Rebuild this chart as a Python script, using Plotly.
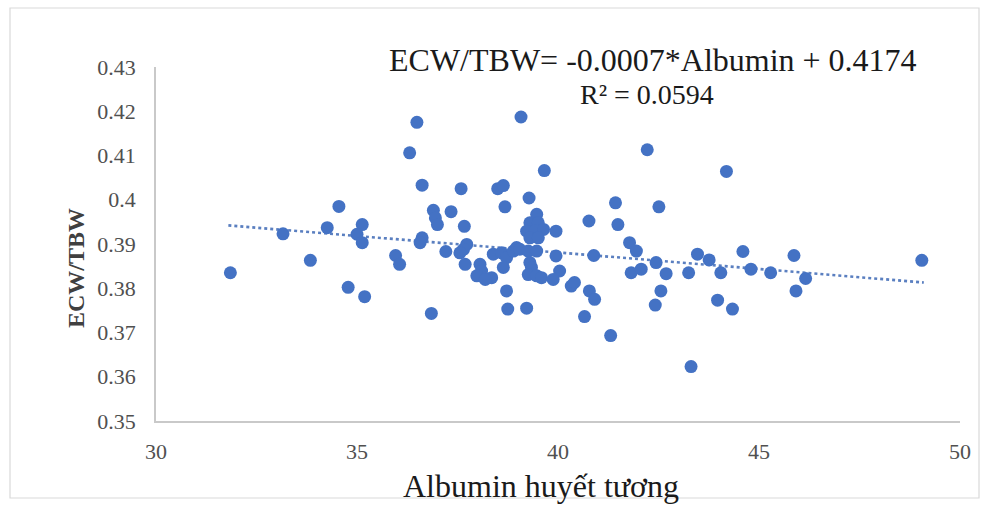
import plotly.graph_objects as go

# Data
albumin = [31.85, 33.16, 33.84, 34.26, 34.55, 34.78, 35.13, 35.0, 35.13, 35.19,
           35.96, 36.06, 36.31, 36.49, 36.62, 36.62, 36.57, 36.85, 36.9, 36.95,
           37.0, 37.34, 37.21, 37.59, 37.67, 37.73, 37.65, 37.56, 37.69, 38.06,
           38.1, 37.98, 38.35, 38.19, 38.39, 38.6, 38.72, 38.64, 38.89, 38.97,
           38.5, 38.64, 38.68, 38.72, 38.75, 39.08, 39.28, 39.47, 39.3, 39.51,
           39.22, 39.43, 39.64, 39.3, 39.51, 39.05, 39.26, 39.47, 39.3, 39.34,
           39.26, 39.47, 39.59, 39.22, 39.66, 39.95, 39.95, 40.04, 39.88, 40.33,
           40.41, 40.78, 40.91, 40.66, 40.77, 40.89, 41.31, 41.43, 41.49, 41.78,
           41.95, 41.82, 42.07, 42.22, 42.44, 42.69, 42.56, 42.42, 42.51, 43.25,
           43.31, 43.47, 43.76, 44.05, 43.97, 44.34, 44.19, 44.6, 44.8, 45.29,
           45.87, 45.92, 46.16, 49.05]
ecw_tbw = [0.3835, 0.3923, 0.3863, 0.3937, 0.3985, 0.3802, 0.3944, 0.3922, 0.3903, 0.3781,
           0.3874, 0.3854, 0.4106, 0.4175, 0.4033, 0.3914, 0.3903, 0.3743, 0.3976, 0.3959,
           0.3944, 0.3973, 0.3883, 0.4025, 0.3940, 0.3899, 0.3888, 0.3880, 0.3854, 0.3854,
           0.3839, 0.3828, 0.3824, 0.3820, 0.3877, 0.3880, 0.3869, 0.3847, 0.3884, 0.3892,
           0.4025, 0.4032, 0.3984, 0.3794, 0.3753, 0.4187, 0.4004, 0.3967, 0.3948, 0.3948,
           0.3929, 0.3929, 0.3933, 0.3914, 0.3914, 0.3888, 0.3884, 0.3884, 0.3858, 0.3847,
           0.3831, 0.3828, 0.3824, 0.3755, 0.4066, 0.3929, 0.3873, 0.3839, 0.3820, 0.3805,
           0.3813, 0.3794, 0.3775, 0.3736, 0.3952, 0.3874, 0.3693, 0.3993, 0.3944, 0.3903,
           0.3884, 0.3835, 0.3843, 0.4113, 0.3858, 0.3833, 0.3794, 0.3762, 0.3984, 0.3835,
           0.3623, 0.3877, 0.3864, 0.3835, 0.3773, 0.3753, 0.4064, 0.3883, 0.3843, 0.3835,
           0.3874, 0.3794, 0.3822, 0.3863]

trend_x = [31.8, 49.1]
trend_y = [0.3942, 0.3813]

x_ticks = [30, 35, 40, 45, 50]
y_ticks = [0.35, 0.36, 0.37, 0.38, 0.39, 0.40, 0.41, 0.42, 0.43]
y_tick_text = ["0.35", "0.36", "0.37", "0.38", "0.39", "0.4", "0.41", "0.42", "0.43"]

equation_text = "ECW/TBW= -0.0007*Albumin + 0.4174"
r2_text = "R² = 0.0594"
x_title = "Albumin huyết tương"
y_title = "ECW/TBW"

W, H = 987, 505
L, R, T, B = 156, 27, 67, 84
pw, ph = W - L - R, H - T - B


def px(xp):
    return (xp - L) / pw


def py(yp):
    return (H - B - yp) / ph


serif = "Times New Roman, Liberation Serif, serif"

fig = go.Figure()
fig.add_trace(go.Scatter(
    x=trend_x, y=trend_y, mode="lines",
    line=dict(color="#5a7fc0", width=2.6, dash="dot"),
    hoverinfo="skip", showlegend=False))
fig.add_trace(go.Scatter(
    x=albumin, y=ecw_tbw, mode="markers",
    marker=dict(color="#4472C4", size=13, line=dict(width=0)),
    showlegend=False))

fig.update_layout(
    width=W, height=H,
    margin=dict(l=L, r=R, t=T, b=B),
    paper_bgcolor="white", plot_bgcolor="white",
    font=dict(family=serif, color="#505050"),
    xaxis=dict(range=[30, 50], tickvals=x_ticks, ticktext=[str(v) for v in x_ticks],
               showgrid=False, zeroline=False, showline=True, linecolor="#c9c9c9",
               linewidth=1.5, ticks="", ticklabelstandoff=10,
               tickfont=dict(family=serif, size=22, color="#505050")),
    yaxis=dict(range=[0.35, 0.43], tickvals=y_ticks, ticktext=y_tick_text,
               showgrid=False, zeroline=False, showline=True, linecolor="#c9c9c9",
               linewidth=1.5, ticks="", ticklabelstandoff=14,
               tickfont=dict(family=serif, size=22, color="#505050")),
    annotations=[
        dict(text=equation_text, x=px(653), y=py(60), xref="paper", yref="paper",
             showarrow=False, font=dict(family=serif, size=32, color="#1a1a1a"),
             xanchor="center", yanchor="middle"),
        dict(text=r2_text, x=px(647), y=py(94), xref="paper", yref="paper",
             showarrow=False, font=dict(family=serif, size=28, color="#1a1a1a"),
             xanchor="center", yanchor="middle"),
        dict(text=x_title, x=px(541), y=py(486), xref="paper", yref="paper",
             showarrow=False, font=dict(family=serif, size=32, color="#1a1a1a"),
             xanchor="center", yanchor="middle"),
        dict(text="<b>" + y_title + "</b>", x=px(76), y=py(268), xref="paper", yref="paper",
             showarrow=False, textangle=-90, font=dict(family=serif, size=24, color="#404040"),
             xanchor="center", yanchor="middle"),
    ],
    shapes=[
        dict(type="rect", xref="paper", yref="paper",
             x0=px(10), x1=px(979), y0=py(498), y1=py(8),
             line=dict(color="#d9d9d9", width=1.2), fillcolor="rgba(0,0,0,0)", layer="below"),
    ],
)

fig.write_html("out.html")
